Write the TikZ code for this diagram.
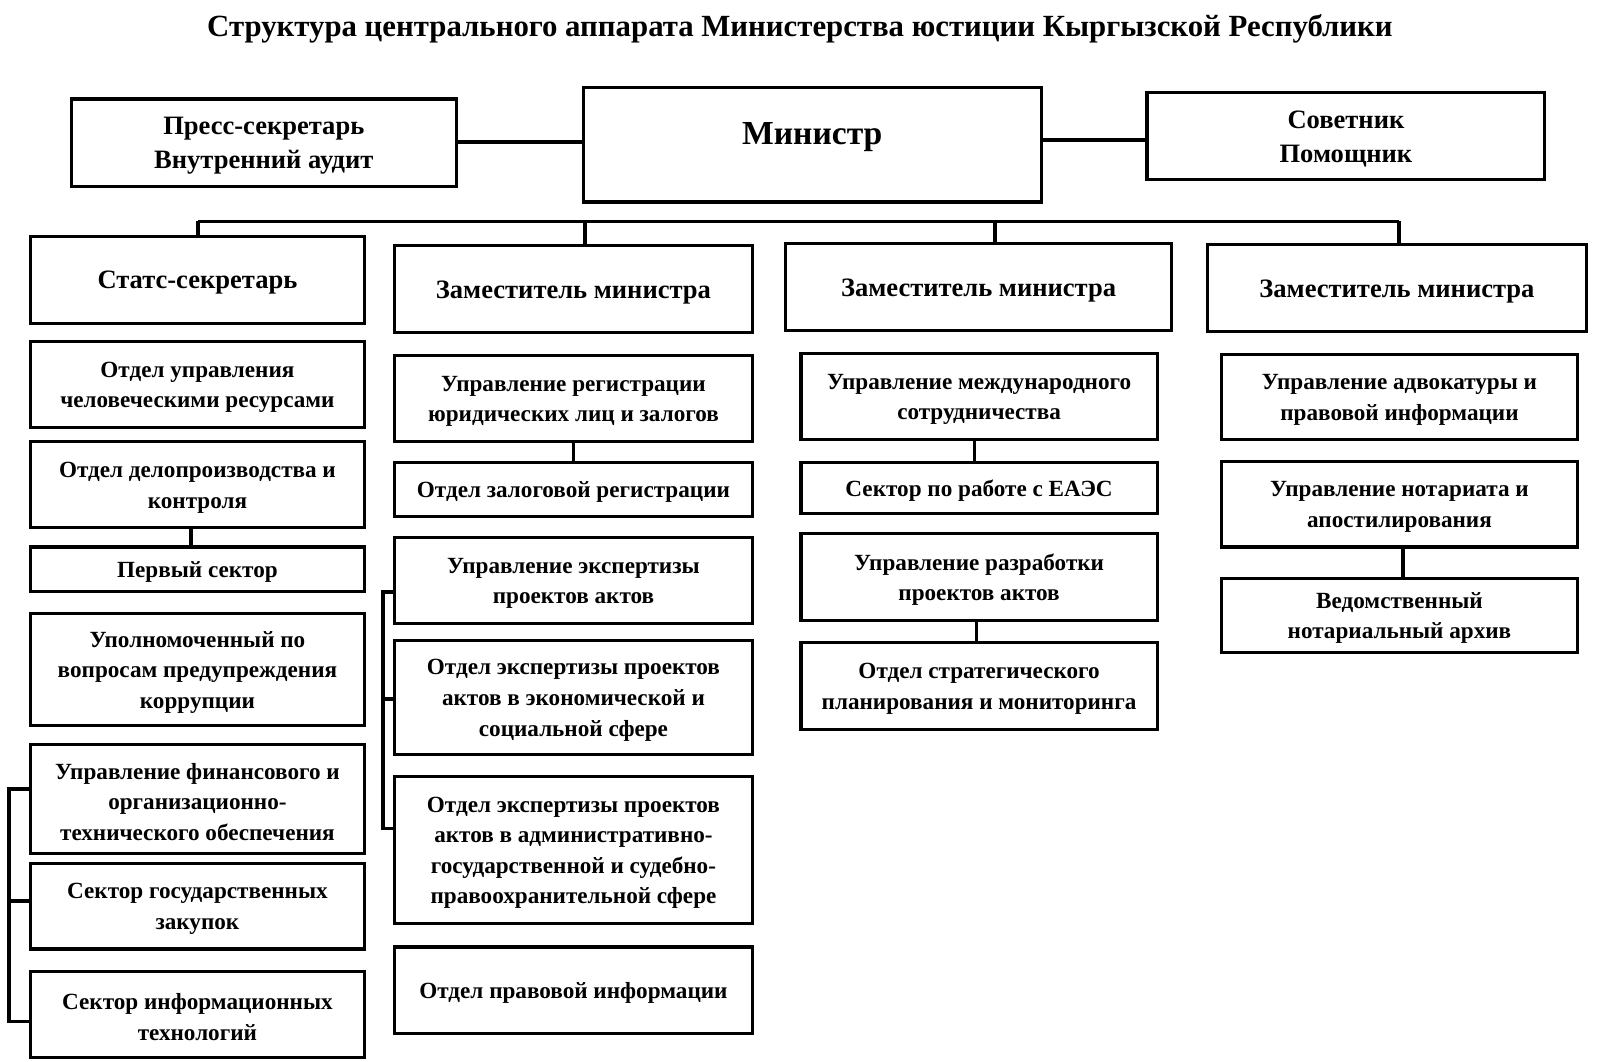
\documentclass[tikz,border=0pt]{standalone}
\usepackage{fontspec}
\setmainfont{Liberation Serif}
\tikzset{
  box/.style={draw, line width=1.55pt, inner sep=0pt},
  innertxt/.style={inner sep=0pt, align=center, font=\fontsize{11.58}{15.3}\selectfont\bfseries},
  headtxt/.style={inner sep=0pt, align=center, font=\fontsize{13.27}{17.35}\selectfont\bfseries},
  conn/.style={line width=1.85pt},
}
\newcommand\bx[7]{%
  \node[box, minimum width={(#5-#3)*0.5102pt}, minimum height={(#6-#4)*0.5102pt}] (#2) at ({(#3+#5)/2},{(#4+#6)/2}) {};
  \node[#1] (#2-t) at ([yshift=-1.4pt]#2.center) {#7};}
\begin{document}
\begin{tikzpicture}[x=0.5102pt,y=-0.5102pt]
\useasboundingbox (0,0) rectangle (1568,1040);
\node[font=\fontsize{15.4}{18}\selectfont\bfseries] (title) at (784,28) {Структура центрального аппарата Министерства юстиции Кыргызской Республики};

% top row
\bx{headtxt}{press}{70}{97}{447}{183}{Пресс-секретарь\\Внутренний аудит}
\node[box, minimum width={(1021-572)*0.5102pt}, minimum height={(198-86)*0.5102pt}] (min) at (796.5,142) {};
\node[font=\fontsize{16.8}{20}\selectfont\bfseries] (mintext) at (796,134) {Министр};
\bx{headtxt}{adv}{1124}{91}{1514}{176}{Советник\\Помощник}
\coordinate (cl) at (0,139);
\coordinate (cr) at (0,137);
\draw[conn] (press.east |- cl) -- (min.west |- cl);
\draw[conn] (min.east |- cr) -- (adv.west |- cr);

% headers
\bx{headtxt}{stats}{30}{232}{357}{317}{Статс-секретарь}
\bx{headtxt}{zam1}{387}{241}{737}{326}{Заместитель министра}
\bx{headtxt}{zam2}{770}{239}{1148}{324}{Заместитель министра}
\bx{headtxt}{zam3}{1183}{240}{1555}{325}{Заместитель министра}
\coordinate (b1) at (194,217);
\coordinate (b2) at (573,217);
\coordinate (b3) at (975,217);
\coordinate (b4) at (1371,217);
\draw[conn] (b1) -- (b4);
\draw[conn] (b1) -- (b1 |- stats.north);
\draw[conn] (b2) -- (b2 |- zam1.north);
\draw[conn] (b3) -- (b3 |- zam2.north);
\draw[conn] (b4) -- (b4 |- zam3.north);

% column 1
\bx{innertxt}{hr}{30}{335}{357}{419}{Отдел управления\\человеческими ресурсами}
\bx{innertxt}{ddp}{30}{433}{357}{517}{Отдел делопроизводства и\\контроля}
\bx{innertxt}{first}{30}{536}{357}{580}{Первый сектор}
\bx{innertxt}{corr}{30}{601}{357}{711}{Уполномоченный по\\вопросам предупреждения\\коррупции}
\bx{innertxt}{fin}{30}{730}{357}{836}{Управление финансового и\\организационно-\\технического обеспечения}
\bx{innertxt}{zak}{30}{846}{357}{930}{Сектор государственных\\закупок}
\bx{innertxt}{it}{30}{952}{357}{1036}{Сектор информационных\\технологий}
\coordinate (k1) at (187,0);
\draw[conn] (ddp.south -| k1) -- (first.north -| k1);
\coordinate (l1) at (9,773);
\coordinate (l2) at (9,883);
\coordinate (l3) at (9,1001);
\draw[conn] (fin.west |- l1) -- (l1) -- (l3) -- (it.west |- l3);
\draw[conn] (l2) -- (zak.west |- l2);

% column 2
\bx{innertxt}{reg}{387}{348}{737}{433}{Управление регистрации\\юридических лиц и залогов}
\bx{innertxt}{zal}{387}{453}{737}{506}{Отдел залоговой регистрации}
\bx{innertxt}{exp}{387}{527}{737}{611}{Управление экспертизы\\проектов актов}
\bx{innertxt}{ekon}{387}{628}{737}{739}{Отдел экспертизы проектов\\актов в экономической и\\социальной сфере}
\bx{innertxt}{adm}{387}{761}{737}{905}{Отдел экспертизы проектов\\актов в административно-\\государственной и судебно-\\правоохранительной сфере}
\bx{innertxt}{pinf}{387}{928}{737}{1013}{Отдел правовой информации}
\coordinate (k2) at (562,0);
\draw[conn] (reg.south -| k2) -- (zal.north -| k2);
\coordinate (m1) at (375,580);
\coordinate (m2) at (375,685);
\coordinate (m3) at (375,812);
\draw[conn] (exp.west |- m1) -- (m1) -- (m3) -- (adm.west |- m3);
\draw[conn] (m2) -- (ekon.west |- m2);

% column 3
\bx{innertxt}{intl}{785}{346}{1134}{431}{Управление международного\\сотрудничества}
\bx{innertxt}{eaes}{785}{453}{1134}{503}{Сектор по работе с ЕАЭС}
\bx{innertxt}{razr}{785}{523}{1134}{608}{Управление разработки\\проектов актов}
\bx{innertxt}{strat}{785}{630}{1134}{715}{Отдел стратегического\\планирования и мониторинга}
\coordinate (k3) at (955,0);
\coordinate (k4) at (957,0);
\draw[conn] (intl.south -| k3) -- (eaes.north -| k3);
\draw[conn] (razr.south -| k4) -- (strat.north -| k4);

% column 4
\bx{innertxt}{adv2}{1197}{347}{1546}{431}{Управление адвокатуры и\\правовой информации}
\bx{innertxt}{not}{1197}{452}{1546}{536}{Управление нотариата и\\апостилирования}
\bx{innertxt}{arch}{1197}{567}{1546}{639}{Ведомственный\\нотариальный архив}
\coordinate (k5) at (1375,0);
\draw[conn] (not.south -| k5) -- (arch.north -| k5);
\end{tikzpicture}
\end{document}
